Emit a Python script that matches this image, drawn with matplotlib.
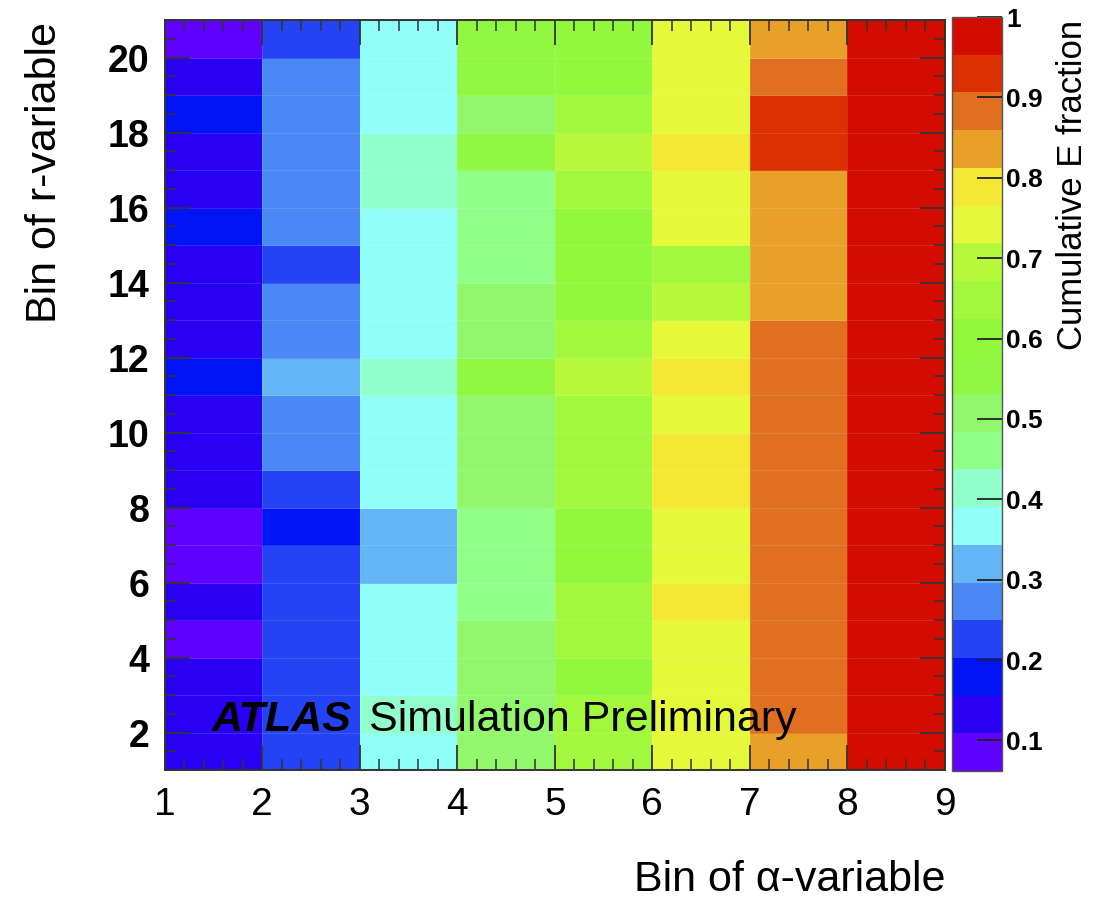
import numpy as np
import matplotlib
matplotlib.use("Agg")
import matplotlib.pyplot as plt
from matplotlib.colors import ListedColormap, BoundaryNorm

plt.rcParams['font.family'] = ['Liberation Sans', 'DejaVu Sans']

# bin edges
alpha_edges = np.arange(1, 10)     # 8 alpha bins
r_edges = np.arange(1, 22)         # 20 r bins

# cumulative E fraction, one list per alpha bin, r bin 1 (bottom) -> 20 (top)
alpha_bin1 = [0.13, 0.13, 0.13, 0.09, 0.13, 0.09, 0.09, 0.13, 0.13, 0.13,
              0.18, 0.13, 0.13, 0.13, 0.18, 0.13, 0.13, 0.18, 0.13, 0.09]
alpha_bin2 = [0.23, 0.23, 0.23, 0.23, 0.23, 0.23, 0.18, 0.23, 0.27, 0.27,
              0.32, 0.27, 0.27, 0.23, 0.27, 0.27, 0.27, 0.27, 0.27, 0.23]
alpha_bin3 = [0.37, 0.41, 0.37, 0.37, 0.37, 0.32, 0.32, 0.37, 0.37, 0.37,
              0.41, 0.37, 0.37, 0.37, 0.37, 0.41, 0.41, 0.37, 0.37, 0.37]
alpha_bin4 = [0.51, 0.51, 0.51, 0.51, 0.46, 0.46, 0.46, 0.51, 0.51, 0.51,
              0.55, 0.51, 0.51, 0.46, 0.46, 0.46, 0.55, 0.51, 0.55, 0.55]
alpha_bin5 = [0.65, 0.65, 0.60, 0.65, 0.65, 0.60, 0.60, 0.65, 0.65, 0.65,
              0.70, 0.65, 0.60, 0.60, 0.60, 0.65, 0.70, 0.65, 0.58, 0.58]
alpha_bin6 = [0.74, 0.74, 0.74, 0.74, 0.79, 0.74, 0.74, 0.79, 0.79, 0.74,
              0.79, 0.74, 0.70, 0.65, 0.74, 0.74, 0.79, 0.74, 0.74, 0.74]
alpha_bin7 = [0.84, 0.88, 0.88, 0.88, 0.88, 0.88, 0.88, 0.88, 0.88, 0.88,
              0.88, 0.88, 0.84, 0.84, 0.84, 0.84, 0.93, 0.93, 0.88, 0.84]
alpha_bin8 = [0.98] * 20

values = np.array([alpha_bin1, alpha_bin2, alpha_bin3, alpha_bin4,
                   alpha_bin5, alpha_bin6, alpha_bin7, alpha_bin8]).T

# ROOT-like rainbow palette with 20 contours
palette = ['#6000FF', '#2A00F5', '#0014F5', '#2343F5', '#4A88F5',
           '#63B5F5', '#8FFFF8', '#90FFCC', '#90FF88', '#90F86A',
           '#90F840', '#92F83C', '#A2F83C', '#B8F83A', '#E5F83A',
           '#F5E835', '#E8A028', '#E07020', '#DC3000', '#D40C00']
zmin, zmax = 0.062, 1.0
levels = np.linspace(zmin, zmax, 21)
cmap = ListedColormap(palette)
norm = BoundaryNorm(levels, cmap.N)

fig = plt.figure(figsize=(11.13, 8.98), dpi=100)
ax = fig.add_axes([0.148, 0.1425, 0.701, 0.835])

mesh = ax.pcolormesh(alpha_edges, r_edges, values, cmap=cmap, norm=norm,
                     edgecolors=(1, 1, 1, 0.12), linewidth=0.6)

ax.set_xlim(1, 9)
ax.set_ylim(1, 21)
ax.set_xticks(np.arange(1, 10))
ax.set_xticks(np.arange(1, 9.01, 0.2), minor=True)
ax.set_yticks(np.arange(2, 21, 2))
ax.set_yticks(np.arange(1, 21.01, 0.5), minor=True)

ax.tick_params(which='both', direction='in', top=True, right=True, color='#333333')
ax.tick_params(which='major', length=18, width=1.3)
ax.tick_params(which='minor', length=8, width=1.1)
ax.tick_params(axis='x', which='major', labelsize=28, pad=12)
ax.tick_params(axis='y', which='major', labelsize=27, pad=11)
for lab in ax.get_yticklabels():
    lab.set_fontweight('bold')
for sp in ax.spines.values():
    sp.set_color('#333333')
    sp.set_linewidth(1.4)

ax.text(0.060, 0.052, 'ATLAS', transform=ax.transAxes, fontsize=31,
        fontweight='bold', fontstyle='italic', va='baseline')
ax.text(0.262, 0.052, 'Simulation Preliminary', transform=ax.transAxes,
        fontsize=31, va='baseline')

# colour bar
cax = fig.add_axes([0.8554, 0.1414, 0.0449, 0.8396])
cb = fig.colorbar(mesh, cax=cax)
cb.set_ticks(np.arange(0.1, 1.01, 0.1))
cb.set_ticklabels(['0.1', '0.2', '0.3', '0.4', '0.5', '0.6', '0.7', '0.8', '0.9', '1'])
cb.outline.set_edgecolor('#555555')
cb.outline.set_linewidth(1.0)
cax.minorticks_off()
cax.tick_params(direction='in', length=18, width=1.3, labelsize=19, pad=3, color='#222222')
for lab in cax.get_yticklabels():
    lab.set_fontweight('bold')

fig.text(1073 / 1113, 1 - 20 / 898, 'Cumulative E fraction', rotation=90,
         ha='center', va='top', fontsize=25)
fig.text(45 / 1113, 1 - 22 / 898, 'Bin of r-variable', rotation=90,
         ha='center', va='top', fontsize=31)
fig.text(945 / 1113, 1 - 880 / 898, 'Bin of α-variable',
         ha='right', va='center', fontsize=31)

fig.savefig('out.png', dpi=100)
